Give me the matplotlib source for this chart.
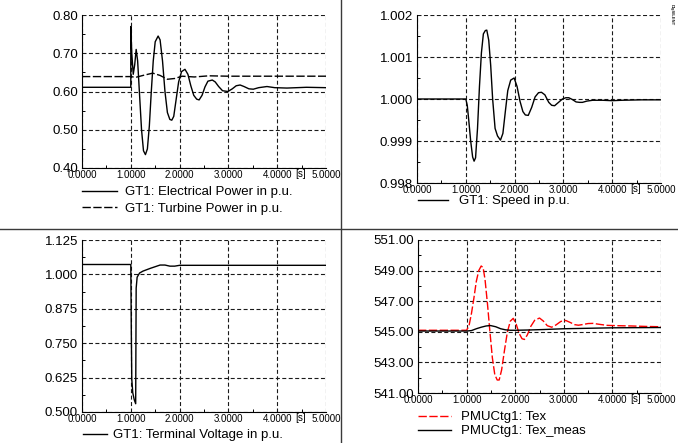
import numpy as np
import matplotlib
matplotlib.use("Agg")
import matplotlib.pyplot as plt
from matplotlib.lines import Line2D

plt.rcParams['font.family'] = ['Liberation Sans', 'DejaVu Sans']

# ---- data (time in s) ----
# GT1 electrical power [p.u.]
pe_t = [0.0, 1.0, 1.0, 1.02, 1.05, 1.08, 1.11, 1.14, 1.18, 1.22, 1.26, 1.30, 1.34, 1.38,
        1.42, 1.46, 1.50, 1.56, 1.60, 1.65, 1.70, 1.75, 1.80, 1.84, 1.88, 1.93, 1.98,
        2.04, 2.11, 2.17, 2.23, 2.29, 2.35, 2.40, 2.46, 2.52, 2.58, 2.67, 2.73, 2.80,
        2.88, 2.99, 3.08, 3.16, 3.24, 3.32, 3.42, 3.51, 3.62, 3.79, 3.95, 4.20, 4.60, 5.0]
pe_v = [0.611, 0.611, 0.770, 0.700, 0.645, 0.670, 0.710, 0.680, 0.590, 0.500, 0.445, 0.435,
        0.450, 0.510, 0.600, 0.680, 0.730, 0.745, 0.735, 0.680, 0.600, 0.545, 0.527, 0.525,
        0.535, 0.580, 0.625, 0.652, 0.658, 0.645, 0.615, 0.590, 0.580, 0.578, 0.590, 0.612,
        0.627, 0.630, 0.625, 0.613, 0.602, 0.600, 0.607, 0.615, 0.617, 0.613, 0.607, 0.606,
        0.610, 0.613, 0.610, 0.609, 0.611, 0.610]

# GT1 turbine power [p.u.]
pt_t = [0.0, 1.0, 1.1, 1.25, 1.45, 1.60, 1.75, 1.90, 2.05, 2.30, 2.60, 3.0, 4.0, 5.0]
pt_v = [0.639, 0.639, 0.637, 0.642, 0.648, 0.642, 0.632, 0.634, 0.640, 0.638, 0.641, 0.640,
        0.640, 0.640]

# GT1 speed [p.u.]
sp_t = [0.0, 1.0, 1.03, 1.06, 1.10, 1.14, 1.17, 1.20, 1.24, 1.28, 1.32, 1.36, 1.40, 1.43,
        1.47, 1.51, 1.55, 1.60, 1.65, 1.71, 1.76, 1.81, 1.86, 1.92, 1.99, 2.05, 2.11, 2.17,
        2.22, 2.28, 2.35, 2.42, 2.49, 2.55, 2.62, 2.70, 2.76, 2.82, 2.90, 2.98, 3.05, 3.11,
        3.18, 3.26, 3.33, 3.39, 3.48, 3.60, 3.80, 4.00, 4.20, 4.60, 5.0]
sp_v = [1.0, 1.0, 0.99985, 0.9995, 0.9990, 0.99862, 0.99852, 0.99860, 0.9993, 1.0003,
        1.0011, 1.00155, 1.00163, 1.00164, 1.0014, 1.0008, 1.0000, 0.9993, 0.99912,
        0.99902, 0.99918, 0.9997, 1.0002, 1.00045, 1.0005, 1.0003, 0.99995, 0.9997,
        0.99962, 0.99961, 0.9998, 1.00005, 1.00015, 1.00016, 1.0001, 0.99992, 0.99985,
        0.99984, 0.99992, 1.0000, 1.00003, 1.00003, 0.99999, 0.99993, 0.99992, 0.99992,
        0.99995, 0.99997, 0.99997, 0.99996, 0.99997, 0.99998, 0.99998]

# GT1 terminal voltage [p.u.]
ut_t = [0.0, 1.0, 1.01, 1.02, 1.04, 1.07, 1.10, 1.105, 1.11, 1.13, 1.18, 1.25, 1.40, 1.60,
        1.70, 1.80, 1.90, 2.00, 2.50, 5.0]
ut_v = [1.036, 1.036, 0.800, 0.620, 0.570, 0.545, 0.530, 0.750, 0.950, 0.990, 1.005, 1.012,
        1.022, 1.034, 1.034, 1.030, 1.030, 1.033, 1.033, 1.033]

# PMUCtg1 Tex
tex_t = [0.0, 1.0, 1.05, 1.10, 1.15, 1.20, 1.25, 1.30, 1.34, 1.38, 1.43, 1.48, 1.53, 1.58,
         1.63, 1.67, 1.72, 1.78, 1.84, 1.90, 1.96, 2.02, 2.08, 2.14, 2.19, 2.25, 2.32, 2.40,
         2.50, 2.58, 2.66, 2.75, 2.84, 2.94, 3.04, 3.14, 3.22, 3.30, 3.40, 3.50, 3.60, 3.75,
         3.90, 4.10, 4.40, 4.70, 5.0]
tex_v = [545.1, 545.1, 545.4, 546.2, 547.2, 548.3, 549.0, 549.3, 549.2, 548.4, 546.8, 545.0,
         543.3, 542.2, 541.85, 541.85, 542.5, 543.8, 545.0, 545.7, 545.88, 545.5, 544.9,
         544.55, 544.5, 544.8, 545.35, 545.75, 545.9, 545.7, 545.4, 545.3, 545.45, 545.68,
         545.74, 545.6, 545.47, 545.43, 545.48, 545.54, 545.55, 545.48, 545.42, 545.4,
         545.38, 545.35, 545.33]

# PMUCtg1 Tex_meas
texm_t = [0.0, 1.0, 1.1, 1.2, 1.3, 1.4, 1.49, 1.6, 1.7, 1.8, 1.9, 2.0, 2.3, 2.6, 3.0, 3.5,
          4.0, 4.5, 5.0]
texm_v = [545.05, 545.05, 545.08, 545.2, 545.3, 545.38, 545.41, 545.33, 545.2, 545.13,
          545.1, 545.1, 545.12, 545.15, 545.2, 545.23, 545.26, 545.27, 545.28]

x_ticks = [0, 1, 2, 3, 4, 5]
x_labels = ["0.0000", "1.0000", "2.0000", "3.0000", "4.0000", "5.0000"]

W, H = 678, 443
fig = plt.figure(figsize=(W / 100, H / 100), dpi=100)

XFS = 7.0   # x tick labels
YFS = 9.5   # y tick labels
LFS = 9.5   # legend text


def px_axes(left, top, right, bottom):
    return fig.add_axes([left / W, 1 - bottom / H, (right - left) / W, (bottom - top) / H])


def style(ax, ylim, yticks, yfmt):
    ax.set_xlim(0, 5)
    ax.set_ylim(*ylim)
    ax.set_xticks(x_ticks)
    ax.set_xticklabels(x_labels, fontsize=XFS)
    ax.set_xticks([0.5, 1.5, 2.5, 3.5, 4.5], minor=True)
    ax.set_yticks(yticks)
    ax.set_yticklabels([yfmt % v for v in yticks], fontsize=YFS)
    ax.set_yticks([(a + b) / 2 for a, b in zip(yticks[:-1], yticks[1:])], minor=True)
    ax.tick_params(which='both', direction='in')
    ax.tick_params(which='major', length=0, pad=3)
    ax.tick_params(axis='x', which='major', pad=1.2)
    ax.tick_params(which='minor', length=2.5, width=0.7)
    ax.grid(True, which='major', color='#1a1a1a', linestyle=(0, (3.6, 2.2)), linewidth=0.8)
    for s in ['top', 'right']:
        ax.spines[s].set_visible(False)
    for s in ['left', 'bottom']:
        ax.spines[s].set_linewidth(0.8)
    ax.text(4.47, -0.008, "[s]", transform=ax.get_xaxis_transform(), fontsize=XFS,
            ha='center', va='top')


def leg(ax, x, ytop, hl, tp, ls):
    ax.legend(loc='upper left', bbox_to_anchor=(x / W, 1 - ytop / H),
              bbox_transform=fig.transFigure, frameon=False, fontsize=LFS,
              handlelength=hl, handletextpad=tp, labelspacing=ls,
              borderpad=0, borderaxespad=0)


# top left
ax1 = px_axes(82, 15, 326, 168)
ax1.plot(pe_t, pe_v, color='black', lw=1.0, label='GT1: Electrical Power in p.u.')
ax1.plot(pt_t, pt_v, color='black', lw=1.0, linestyle=(0, (6, 1.8)),
         label='GT1: Turbine Power in p.u.')
style(ax1, (0.40, 0.80), [0.40, 0.50, 0.60, 0.70, 0.80], '%.2f')
leg(ax1, 82, 186, 2.65, 0.6, 0.32)

# top right
ax2 = px_axes(417, 15, 661, 183)
ax2.plot(sp_t, sp_v, color='black', lw=1.0, label='GT1: Speed in p.u.')
style(ax2, (0.998, 1.002), [0.998, 0.999, 1.000, 1.001, 1.002], '%.3f')
leg(ax2, 418, 195, 2.3, 0.8, 0.2)

# bottom left
ax3 = px_axes(82, 240, 326, 412)
ax3.plot(ut_t, ut_v, color='black', lw=1.0, label='GT1: Terminal Voltage in p.u.')
style(ax3, (0.500, 1.125), [0.500, 0.625, 0.750, 0.875, 1.000, 1.125], '%.3f')
leg(ax3, 83, 429, 1.8, 0.45, 0.2)

# bottom right
ax4 = px_axes(418, 240, 661, 393)
ax4.plot(tex_t, tex_v, color='red', lw=1.0, linestyle=(0, (6, 1.8)), label='PMUCtg1: Tex')
ax4.plot(texm_t, texm_v, color='black', lw=1.0, label='PMUCtg1: Tex_meas')
style(ax4, (541.0, 551.0), [541.0, 543.0, 545.0, 547.0, 549.0, 551.0], '%.2f')
leg(ax4, 418, 411, 2.5, 0.75, 0.15)

# page dividers
fig.add_artist(Line2D([341 / W, 341 / W], [0, 1], color='#3a3a3a', lw=1.0))
fig.add_artist(Line2D([0, 1], [1 - 229 / H, 1 - 229 / H], color='#3a3a3a', lw=1.0))

# logo
fig.text(672 / W, 1 - 4 / H, "DIgSILENT", rotation=-90, fontsize=3, fontweight='bold',
         ha='center', va='top', color='#222222')

fig.savefig("out.png", dpi=100)
